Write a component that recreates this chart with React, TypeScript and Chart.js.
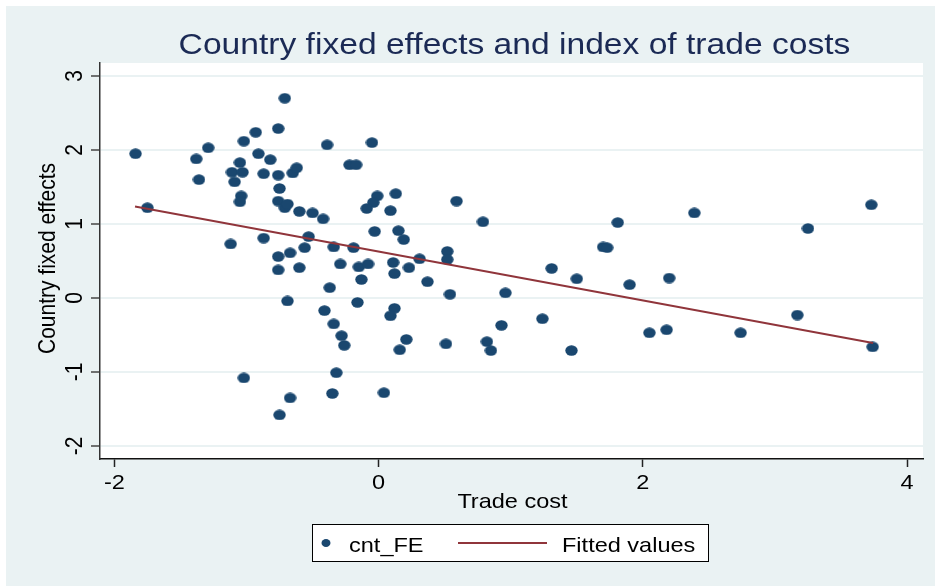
import React, { useEffect, useRef } from "react";
import { Chart, registerables } from "chart.js";

Chart.register(...registerables);

// ---------- data ----------
const tradeCost = [
  -1.84, -1.75, -1.38, -1.29, -1.36, -1.12, -1.02, -0.93, -0.76, -0.71,
  -0.91, -0.82, -1.05, -1.11, -1.03, -1.09, -0.87, -0.76, -0.75, -1.04,
  -1.05, -0.76, -0.71, -0.69, -0.87, -0.76, -0.76, -0.67, -0.65, -0.62,
  -0.39, -0.05, -0.22, -0.17, -0.6, -0.5, -0.42, -0.01, -0.04, -0.09,
  -0.03, -0.53, -0.56, -0.34, -0.19, -0.29, -0.15, -0.08, -0.6, -0.13,
  0.13, 0.09, 0.15, 0.19, 0.31, 0.52, 0.52, 0.11, 0.12, 0.23,
  0.37, -0.37, 0.54, -0.69, -0.16, -0.41, 0.12, 0.09, -0.34, -0.28,
  -0.26, 0.21, 0.16, 0.51, -0.32, -0.67, -0.35, 0.04, -1.02, -0.75,
  0.59, 0.79, 0.96, 1.31, 1.5, 0.93, 1.24, 0.82, 0.85, 1.46,
  1.81, 2.39, 3.73, 3.25, 1.7, 1.73, 1.9, 2.2, 3.17, 2.05,
  2.18, 2.74, 3.74,
];
const countryFE = [
  1.95, 1.22, 1.88, 2.03, 1.6, 0.73, 2.12, 2.24, 2.29, 2.7,
  1.95, 1.87, 1.83, 1.7, 1.7, 1.57, 1.68, 1.66, 1.48, 1.38,
  1.3, 1.31, 1.22, 1.27, 0.81, 0.56, 0.38, 0.61, 1.69, 1.76,
  2.07, 2.1, 1.8, 1.8, 1.17, 1.15, 1.07, 1.38, 1.29, 1.21,
  0.9, 0.83, 0.68, 0.69, 0.68, 0.46, 0.42, 0.46, 0.41, 0.25,
  1.41, 1.18, 0.91, 0.79, 0.53, 0.63, 0.52, 0.48, 0.33, 0.41,
  0.22, 0.14, 0.05, -0.04, -0.06, -0.17, -0.14, -0.24, -0.35, -0.51,
  -0.64, -0.56, -0.7, -0.62, -1.01, -1.35, -1.29, -1.28, -1.08, -1.58,
  1.31, 1.03, 0.07, 0.4, 0.26, -0.37, -0.28, -0.59, -0.71, -0.71,
  1.02, 1.15, 1.26, 0.94, 0.69, 0.68, 0.18, 0.27, -0.23, -0.47,
  -0.43, -0.47, -0.66,
];
const fitX = [-1.844, 3.743];
const fitY = [1.236, -0.607];

const xTicks = [-2, 0, 2, 4];
const yTicks = [-2, -1, 0, 1, 2, 3];

const titleText = "Country fixed effects and index of trade costs";
const xTitleText = "Trade cost";
const yTitleText = "Country fixed effects";
const legendLabels = ["cnt_FE", "Fitted values"];

// ---------- styles ----------
const NAVY = "#1a476f";
const MAROON = "#90353b";
const BG = "#eaf2f3";
const TITLE_COLOR = "#1b2a55";
const FONT = '"Liberation Sans", Arial, Helvetica, sans-serif';
const K = 1.12; // horizontal text stretch

function hText(ctx: CanvasRenderingContext2D, text: string, x: number, y: number, size: number, color: string, align: CanvasTextAlign = "center") {
  ctx.save();
  ctx.translate(x, y);
  ctx.scale(K, 1);
  ctx.font = `${size}px ${FONT}`;
  ctx.fillStyle = color;
  ctx.textAlign = align;
  ctx.textBaseline = "alphabetic";
  ctx.fillText(text, 0, 0);
  ctx.restore();
}

function vText(ctx: CanvasRenderingContext2D, text: string, x: number, y: number, size: number, color: string) {
  ctx.save();
  ctx.translate(x, y);
  ctx.rotate(-Math.PI / 2);
  ctx.scale(1, K);
  ctx.font = `${size}px ${FONT}`;
  ctx.fillStyle = color;
  ctx.textAlign = "center";
  ctx.textBaseline = "alphabetic";
  ctx.fillText(text, 0, 0);
  ctx.restore();
}

function makeEllipse(w: number, h: number, color: string) {
  const c = document.createElement("canvas");
  c.width = w;
  c.height = h;
  const g = c.getContext("2d")!;
  g.fillStyle = color;
  g.beginPath();
  g.ellipse(w / 2, h / 2, w / 2 - 0.3, h / 2 - 0.3, 0, 0, Math.PI * 2);
  g.fill();
  return c;
}

const decorPlugin = {
  id: "decor",
  beforeDraw(chart: any) {
    const { ctx, chartArea } = chart;
    ctx.save();
    ctx.fillStyle = "#ffffff";
    ctx.fillRect(0, 0, chart.width, chart.height);
    ctx.fillStyle = BG;
    ctx.fillRect(6, 6, chart.width - 6, chart.height - 6);
    ctx.fillStyle = "#ffffff";
    ctx.fillRect(chartArea.left, chartArea.top, chartArea.right - chartArea.left, chartArea.bottom - chartArea.top);
    ctx.restore();
  },
  afterDraw(chart: any) {
    const { ctx, scales } = chart;
    const xs = scales.x;
    const ys = scales.y;
    // title
    hText(ctx, titleText, 514.5, 54, 30, TITLE_COLOR);
    // x tick labels
    xs.ticks.forEach((t: any) => {
      hText(ctx, String(t.value), xs.getPixelForValue(t.value), 489, 21, "#000");
    });
    // x title
    hText(ctx, xTitleText, 512.5, 508, 21, "#000");
    // y tick labels
    ys.ticks.forEach((t: any) => {
      vText(ctx, String(t.value), 82, ys.getPixelForValue(t.value), 21, "#000");
    });
    // y title
    vText(ctx, yTitleText, 55, 258.5, 21, "#000");

    // legend
    ctx.save();
    ctx.fillStyle = "#ffffff";
    ctx.fillRect(312, 524, 397, 38);
    ctx.strokeStyle = "#000";
    ctx.lineWidth = 1;
    ctx.strokeRect(312.5, 524.5, 396, 37);
    ctx.fillStyle = NAVY;
    ctx.beginPath();
    ctx.ellipse(326, 543, 4.5, 4, 0, 0, Math.PI * 2);
    ctx.fill();
    ctx.strokeStyle = MAROON;
    ctx.lineWidth = 2;
    ctx.beginPath();
    ctx.moveTo(458, 543);
    ctx.lineTo(547, 543);
    ctx.stroke();
    ctx.restore();
    hText(ctx, legendLabels[0], 349, 552, 21, "#000", "left");
    hText(ctx, legendLabels[1], 562, 552, 21, "#000", "left");
  },
};

export default function App() {
  const ref = useRef<HTMLCanvasElement | null>(null);

  useEffect(() => {
    if (!ref.current) return;
    const dot = makeEllipse(13, 11, NAVY);
    const points = tradeCost.map((x, i) => ({ x, y: countryFE[i] }));
    const fit = fitX.map((x, i) => ({ x, y: fitY[i] }));

    const chart = new Chart(ref.current, {
      type: "scatter",
      data: {
        datasets: [
          {
            type: "line",
            label: legendLabels[1],
            data: fit,
            borderColor: MAROON,
            borderWidth: 2,
            pointRadius: 0,
            showLine: true,
            fill: false,
            order: 0,
          } as any,
          {
            label: legendLabels[0],
            data: points,
            pointStyle: dot as any,
            pointRadius: 6,
            backgroundColor: NAVY,
            borderWidth: 0,
            order: 1,
          },
        ],
      },
      options: {
        responsive: false,
        animation: false,
        events: [],
        layout: { padding: { left: 0, top: 63, right: 12, bottom: 0 } },
        plugins: {
          legend: { display: false },
          title: { display: false },
          tooltip: { enabled: false },
        },
        scales: {
          x: {
            type: "linear",
            min: -2.109,
            max: 4.121,
            afterBuildTicks: (s: any) => {
              s.ticks = xTicks.map((v) => ({ value: v }));
            },
            afterFit: (s: any) => {
              s.height = 127;
            },
            ticks: { display: false },
            grid: {
              drawOnChartArea: false,
              drawTicks: true,
              tickLength: 8,
              tickColor: "#222",
              tickWidth: 1.5,
            },
            border: { display: true, color: "#111", width: 1.5 },
          },
          y: {
            type: "linear",
            min: -2.176,
            max: 3.176,
            afterBuildTicks: (s: any) => {
              s.ticks = yTicks.map((v) => ({ value: v }));
            },
            afterFit: (s: any) => {
              s.width = 100;
            },
            ticks: { display: false },
            grid: {
              color: BG,
              lineWidth: 2,
              drawTicks: true,
              tickLength: 9,
              tickColor: "#444",
              tickWidth: 1.5,
            },
            border: { display: true, color: "#333", width: 1.5 },
          },
        },
      },
      plugins: [decorPlugin],
    });
    return () => chart.destroy();
  }, []);

  return (
    <div style={{ position: "absolute", left: 0, top: 0, width: 935, height: 586 }}>
      <canvas ref={ref} width={935} height={586} />
    </div>
  );
}
